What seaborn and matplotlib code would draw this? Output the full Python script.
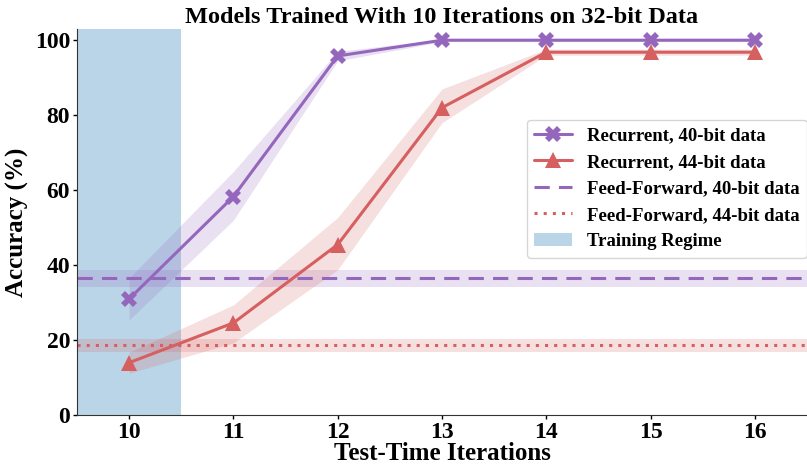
import numpy as np
import pandas as pd
import matplotlib
matplotlib.use("Agg")
import matplotlib.pyplot as plt
import seaborn as sns

iterations = [10, 11, 12, 13, 14, 15, 16]
rec40 = [31, 58.3, 95.8, 100, 100, 100, 100]
rec40_lo = [25.4, 52, 94.5, 99.6, 99.6, 99.6, 99.6]
rec40_hi = [36.6, 65, 97, 100.3, 100.3, 100.3, 100.3]
rec44 = [14, 24.6, 45.5, 82, 96.8, 96.8, 96.8]
rec44_lo = [11.2, 19.3, 38.8, 78, 96, 96, 96]
rec44_hi = [16.8, 29.4, 52.7, 87, 97.6, 97.6, 97.6]
ff40, ff40_lo, ff40_hi = 36.6, 34.3, 38.8
ff44, ff44_lo, ff44_hi = 18.8, 16.8, 20.3
train_lo, train_hi = 9.5, 10.5

purple = "#9467bd"
red = "#d65f5f"
blue = "#1f77b4"

sns.set_style("ticks")
plt.rcParams['font.family'] = ['Liberation Serif', 'DejaVu Serif']
plt.rcParams['font.weight'] = 'bold'
plt.rcParams['text.color'] = 'black'
plt.rcParams['axes.labelcolor'] = 'black'
plt.rcParams['xtick.color'] = 'black'
plt.rcParams['ytick.color'] = 'black'
plt.rcParams['axes.edgecolor'] = '#333333'

fig = plt.figure(figsize=(8.07, 4.67), dpi=100)
ax = fig.add_axes([0.0954, 0.111, 0.9046, 0.827])

df = pd.DataFrame({"it": iterations, "r40": rec40, "r44": rec44})

ax.axvspan(train_lo, train_hi, color=blue, alpha=0.3, lw=0, label="Training Regime", zorder=0)

ax.axhspan(ff40_lo, ff40_hi, color=purple, alpha=0.2, lw=0)
ax.axhline(ff40, color=purple, ls=(0, (5, 3)), lw=2.2, label="Feed-Forward, 40-bit data")
ax.axhspan(ff44_lo, ff44_hi, color=red, alpha=0.2, lw=0)
ax.axhline(ff44, color=red, ls=(0, (1, 2)), lw=2.2, label="Feed-Forward, 44-bit data")

ax.fill_between(iterations, rec40_lo, rec40_hi, color=purple, alpha=0.2, lw=0)
ax.fill_between(iterations, rec44_lo, rec44_hi, color=red, alpha=0.2, lw=0)
sns.lineplot(data=df, x="it", y="r40", ax=ax, color=purple, marker="X", markersize=12,
             markeredgewidth=0, lw=2.2, label="Recurrent, 40-bit data")
sns.lineplot(data=df, x="it", y="r44", ax=ax, color=red, marker="^", markersize=12,
             markeredgewidth=0, lw=2.2, label="Recurrent, 44-bit data")

ax.set_xlim(9.5, 16.5)
ax.set_ylim(0, 103)
ax.set_xticks(iterations)
ax.set_yticks([0, 20, 40, 60, 80, 100])
ax.tick_params(labelsize=17, length=3, width=1, pad=2)
for t in ax.get_xticklabels() + ax.get_yticklabels():
    t.set_fontweight('bold')
ax.set_xlabel("Test-Time Iterations", fontsize=18, fontweight='bold', labelpad=-1)
ax.set_ylabel("Accuracy (%)", fontsize=18, fontweight='bold', labelpad=4)
ax.set_title("Models Trained With 10 Iterations on 32-bit Data", fontsize=17.5, fontweight='bold', pad=4)
sns.despine(ax=ax)

h, l = ax.get_legend_handles_labels()
order = ["Recurrent, 40-bit data", "Recurrent, 44-bit data", "Feed-Forward, 40-bit data",
         "Feed-Forward, 44-bit data", "Training Regime"]
hd = dict(zip(l, h))
ax.legend([hd[k] for k in order], order, loc="upper right", bbox_to_anchor=(1.0, 0.765),
          prop={'weight': 'bold', 'size': 13.5}, frameon=True, borderaxespad=0)

fig.savefig("out.png", dpi=100)
